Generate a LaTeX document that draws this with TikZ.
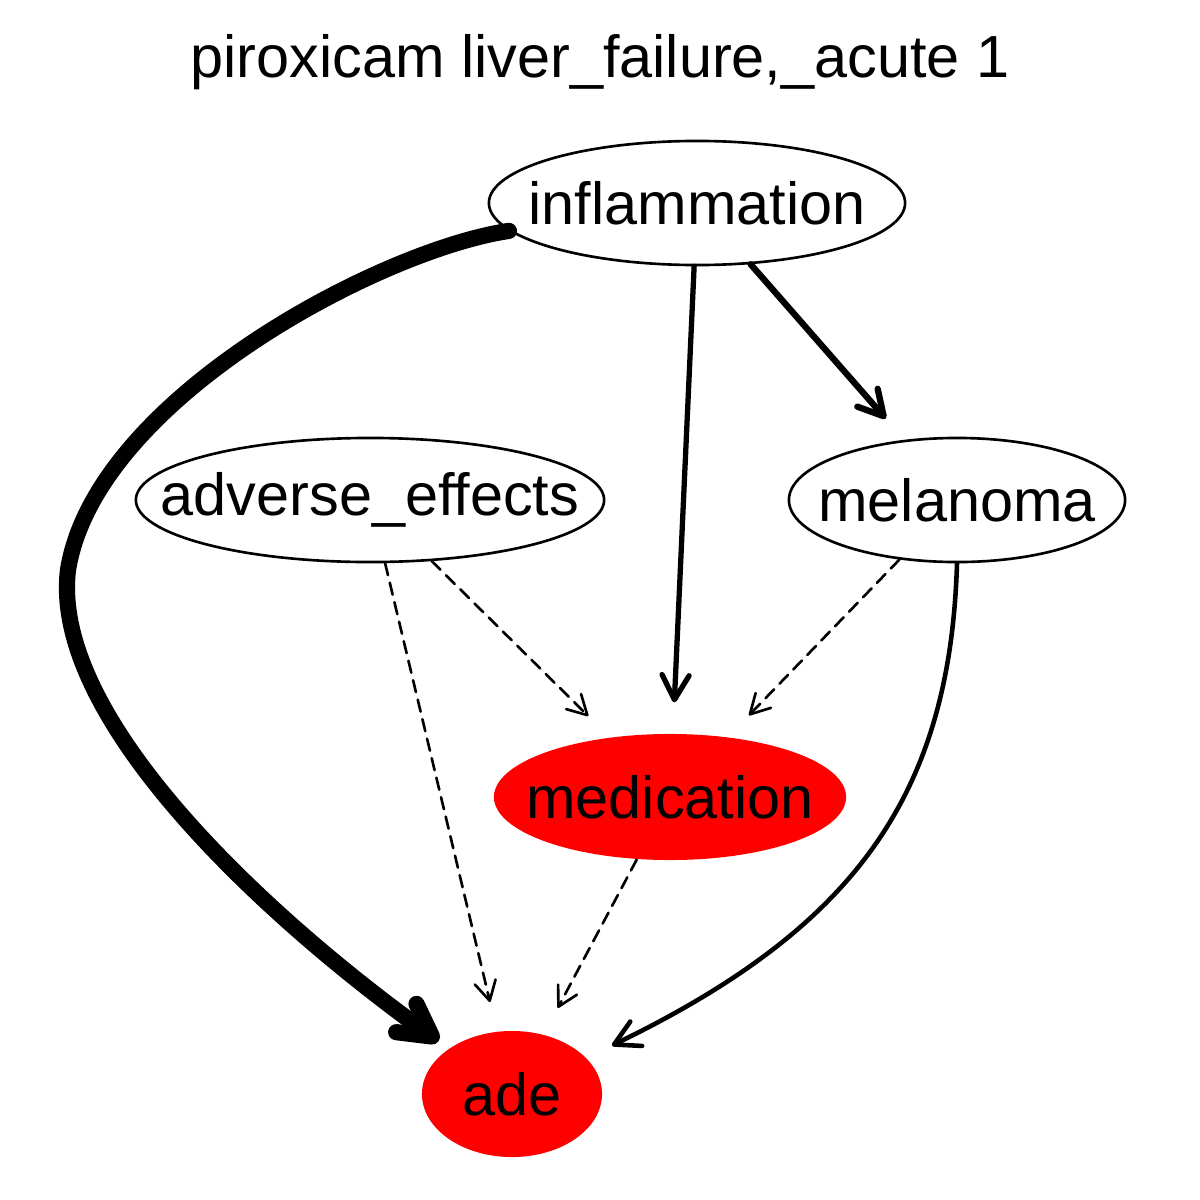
\documentclass[tikz,border=0pt]{standalone}
\usepackage{fontspec}
\setmainfont{Liberation Sans}
\usetikzlibrary{shapes.geometric,arrows.meta}
\tikzset{
  lbl/.style={font=\fontsize{16.9}{20}\selectfont},
  ov/.style={ellipse, inner sep=0pt, lbl},
  plain/.style={ov, draw=black, line width=0.75pt, fill=white},
  hot/.style={ov, fill=red, draw=none},
  barb/.style={-{Straight Barb[length=#1, width=#1*1.1, line cap=round, line join=round]}},
  edash/.style={line width=0.75pt, dash pattern=on 3.5pt off 2.2pt, barb=5.5pt, shorten >=8.5pt},
}
\begin{document}
\begin{tikzpicture}[x=0.01cm, y=-0.01cm, line cap=round]
\useasboundingbox (0,0) rectangle (1200,1200);
\node[lbl] (title) at (600,62) {piroxicam liver\_failure,\_acute 1};
\node[plain, minimum width=4.16cm, minimum height=1.24cm] (infl) at (697,203) {\makebox[0pt]{inflammation}};
\node[plain, minimum width=4.68cm, minimum height=1.24cm] (adv) at (370,500) {\makebox[0pt]{adverse\_effects}};
\node[plain, minimum width=3.36cm, minimum height=1.24cm] (mel) at (957,500) {\makebox[0pt]{melanoma}};
\node[hot, minimum width=3.52cm, minimum height=1.26cm] (med) at (670,797) {\makebox[0pt]{medication}};
\node[hot, minimum width=1.80cm, minimum height=1.26cm] (ade) at (512,1094) {\makebox[0pt]{ade}};

% thick curved edge
\draw[line width=4.6pt, barb=9pt, shorten >=3.5pt] (infl) .. controls (380,250) and (95,400) .. (68,570)
   .. controls (50,720) and (270,920) .. (ade);
% solid straight edges
\draw[line width=1.5pt, barb=7pt, shorten >=8.8pt] (infl) -- (med);
\draw[line width=1.8pt, barb=7pt, shorten >=8pt] (infl) -- (mel);
% melanoma -> ade curve
\draw[line width=1.3pt, barb=7pt, shorten >=8pt] (mel.south) .. controls (950,800) and (850,930) .. (ade);
% dashed edges
\draw[edash] (adv) -- (med);
\draw[edash] (adv) -- (ade);
\draw[edash] (mel) -- (med);
\draw[edash] (med) -- (ade);
\end{tikzpicture}
\end{document}
